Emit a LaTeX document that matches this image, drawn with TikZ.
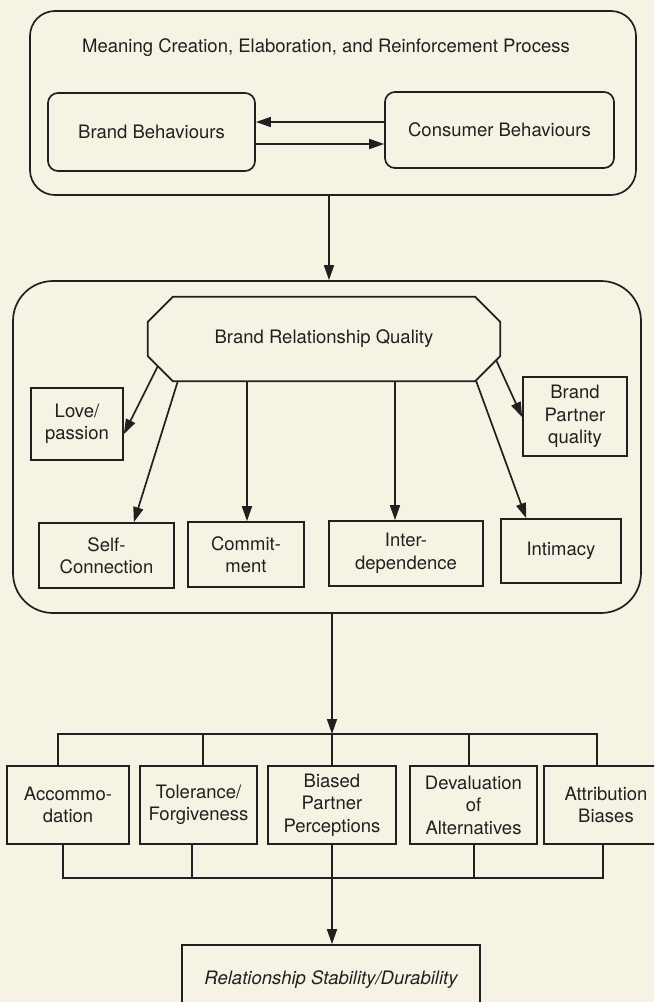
\documentclass[tikz,border=0pt]{standalone}
\usepackage{fontspec}
\setmainfont{TeX Gyre Heros}
\usetikzlibrary{arrows.meta,calc}
\definecolor{paper}{RGB}{247,243,228}
\definecolor{ink}{RGB}{32,32,32}
\tikzset{
  lbl/.style={font=\fontsize{18.5}{22.5}\selectfont, text=ink, align=center, inner sep=0pt},
  outerbox/.style={draw=ink, line width=1.7pt, rounded corners=#1},
  box/.style 2 args={lbl, draw=ink, line width=1.7pt, minimum width=#1, minimum height=#2},
  link/.style={draw=ink, line width=1.7pt},
  arr/.style={link, -{Triangle[length=15pt,width=10pt]}},
}
\begin{document}
\begin{tikzpicture}[x=1pt,y=-1pt]
\fill[paper] (0,0) rectangle (654,1002);
\useasboundingbox (0,0) rectangle (654,1002);
\clip (0,0) rectangle (654,1002);

% --- meaning creation process ---
\node[outerbox=25pt, minimum width=606pt, minimum height=184pt] (top) at (333,103) {};
\node[lbl] (title) at (326,48) {Meaning Creation, Elaboration, and Reinforcement Process};
\node[box={207pt}{78pt}, rounded corners=10pt] (brand) at (151.5,132) {Brand Behaviours};
\node[box={229pt}{76pt}, rounded corners=10pt] (cons) at (499.5,130) {Consumer Behaviours};
\draw[arr] ($(cons.west)+(0,-8)$) -- ($(brand.east)+(0,-10)$);
\draw[arr] ($(brand.east)+(0,12)$) -- ($(cons.west)+(0,14)$);

% --- brand relationship quality ---
\node[outerbox=40pt, minimum width=628pt, minimum height=332pt] (mid) at (327,447) {};
\draw[arr] ($(top.south)+(-4,0)$) coordinate (d1) -- (d1 |- mid.north);

\node[lbl, minimum width=352pt, minimum height=84pt] (brq) at (324,339) {Brand Relationship Quality};
\draw[link] ($(brq.north west)+(25,0)$) -- ($(brq.north east)+(-25,0)$)
  -- ($(brq.north east)+(0,25)$) -- ($(brq.south east)+(0,-25)$)
  -- ($(brq.south east)+(-25,0)$) -- ($(brq.south west)+(25,0)$)
  -- ($(brq.south west)+(0,-25)$) -- ($(brq.north west)+(0,25)$) -- cycle;

\node[box={92pt}{72pt}] (love) at (77,424) {Love/\\passion};
\node[box={104pt}{79pt}] (partner) at (575,416.5) {Brand\\Partner\\quality};
\node[box={135pt}{65pt}] (self) at (106.5,555.5) {Self-\\Connection};
\node[box={116pt}{65pt}] (comm) at (246,554.5) {Commit-\\ment};
\node[box={154pt}{65pt}] (inter) at (406,553.5) {Inter-\\dependence};
\node[box={120pt}{64pt}] (intim) at (561,551) {Intimacy};

\draw[arr] ($(brq.south west)+(10,-15)$) -- ($(love.north east)+(0,47)$);
\draw[arr] ($(brq.south west)+(30,0)$) -- ($(self.north east)+(-41,0)$);
\draw[arr] ($(comm.north)+(1,0)$) coordinate (c1) ++(0,0) (c1 |- brq.south) -- (c1);
\draw[arr] ($(inter.north)+(-11,0)$) coordinate (c2) ++(0,0) (c2 |- brq.south) -- (c2);
\draw[arr] ($(brq.south east)+(-24,0)$) -- ($(intim.north west)+(26,0)$);
\draw[arr] ($(brq.south east)+(-4,-21)$) -- ($(partner.north west)+(0,41)$);

% --- maintenance processes ---
\node[box={122pt}{78pt}] (acc) at (68,805) {Accommo-\\dation};
\node[box={117pt}{78pt}] (tol) at (198.5,805) {Tolerance/\\Forgiveness};
\node[box={128pt}{78pt}] (bias) at (332,805) {Biased\\Partner\\Perceptions};
\node[box={127pt}{78pt}] (dev) at (473.5,805) {Devaluation\\of\\Alternatives};
\node[box={124pt}{78pt}] (attr) at (606,805) {Attribution\\Biases};

\coordinate (tb) at (332,734);
\coordinate (bb) at (332,878);
\draw[arr] ($(mid.south)+(5,0)$) -- (tb);
\draw[link] ($(acc.north)+(-10,0)$) |- (tb) -| ($(attr.north)+(-9,0)$);
\draw[link] ($(tol.north)+(4.5,0)$) coordinate (t2) -- (t2 |- tb);
\draw[link] (bias.north) -- (bias.north |- tb);
\draw[link] ($(dev.north)+(-4.5,0)$) coordinate (t4) -- (t4 |- tb);

\draw[link] ($(acc.south)+(-5,0)$) |- (bb) -| ($(attr.south)+(-3,0)$);
\draw[link] ($(tol.south)+(-6.5,0)$) coordinate (b2) -- (b2 |- bb);
\draw[link] ($(dev.south)+(0.5,0)$) coordinate (b4) -- (b4 |- bb);

% --- outcome ---
\node[box={298pt}{70pt}, font=\fontsize{18.5}{22.5}\selectfont\itshape] (final) at (331,980) {Relationship Stability/Durability};
\draw[arr] (bias.south) -- (bias.south |- final.north);
\end{tikzpicture}
\end{document}
